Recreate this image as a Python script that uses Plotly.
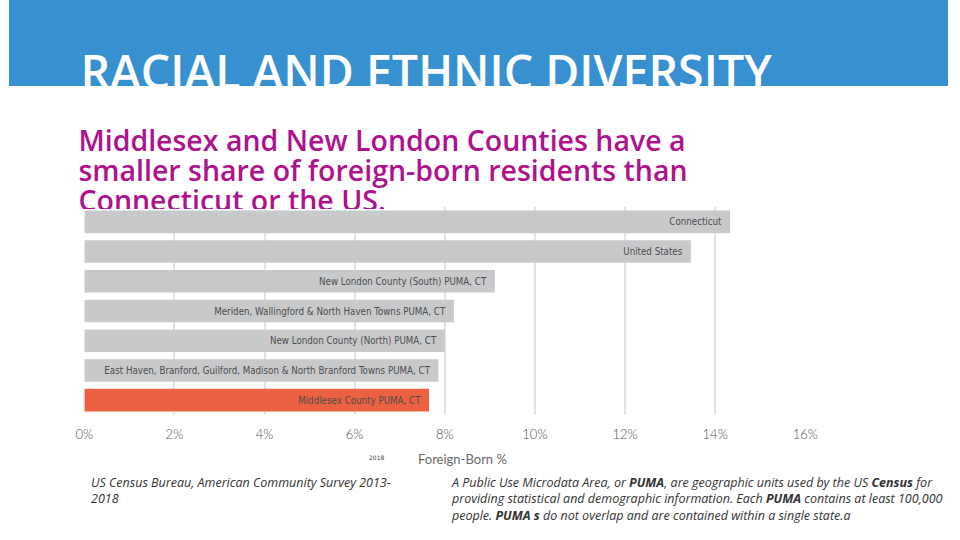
import plotly.graph_objects as go

# chart values (top to bottom)
places = [
    "Connecticut",
    "United States",
    "New London County (South) PUMA, CT",
    "Meriden, Wallingford & North Haven Towns PUMA, CT",
    "New London County (North) PUMA, CT",
    "East Haven, Branford, Guilford, Madison & North Branford Towns PUMA, CT",
    "Middlesex County PUMA, CT",
]
foreign_born = [14.33, 13.46, 9.11, 8.2, 8.0, 7.86, 7.65]
highlight = "Middlesex County PUMA, CT"
tick_vals = [0, 2, 4, 6, 8, 10, 12, 14, 16]
tick_text = ["0%", "2%", "4%", "6%", "8%", "10%", "12%", "14%", "16%"]

title = "RACIAL AND ETHNIC DIVERSITY"
subtitle = ["Middlesex and New London Counties have a",
            "smaller share of foreign-born residents than",
            "Connecticut or the US."]
source_lines = ["US Census Bureau, American Community Survey 2013-", "2018"]
note_lines = [
    "A Public Use Microdata Area, or <b>PUMA</b>, are geographic units used by the US <b>Census</b> for",
    "providing statistical and demographic information. Each <b>PUMA</b> contains at least 100,000",
    "people. <b>PUMA s</b> do not overlap and are contained within a single state.a",
]

W, H = 960, 540
def py(p):  # pixel row -> paper fraction
    return 1 - p / H

bar_colors = ["#EC6142" if p == highlight else "#C8C9CB" for p in places]
bar_text = [p + "\u00a0\u00a0" for p in places]

fig = go.Figure()

fig.add_trace(go.Bar(
    x=foreign_born, y=places, orientation="h",
    marker=dict(color=bar_colors, line=dict(width=0)),
    text=bar_text, textposition="inside", insidetextanchor="end",
    textfont=dict(family="DejaVu Sans Condensed, Roboto", size=9.7, color="#4D4D4D"),
    constraintext="none", hoverinfo="none",
    xaxis="x", yaxis="y",
))

# title, clipped by the bottom of the blue band
fig.add_trace(go.Scatter(
    x=[73], y=[77], mode="text", text=[title], textposition="middle right",
    textfont=dict(family="Open Sans", size=46.5, color="white", weight=600),
    cliponaxis=True, hoverinfo="skip", xaxis="x2", yaxis="y2",
))

# subtitle, clipped by the top of the chart
fig.add_trace(go.Scatter(
    x=[71, 71, 71], y=[144, 174, 204], mode="text", text=subtitle,
    textposition="middle right",
    textfont=dict(family="Open Sans", size=28.5, color="#AE128D", weight=600),
    cliponaxis=True, hoverinfo="skip", xaxis="x3", yaxis="y3",
))

hidden = dict(visible=False, showgrid=False, zeroline=False, fixedrange=True)

foot_font = dict(family="Open Sans", size=12.5, color="#333333")
notes = [
    dict(text="2018", x=376 / W, y=py(457), xref="paper", yref="paper",
         showarrow=False, xanchor="center", yanchor="middle",
         font=dict(family="DejaVu Sans", size=6, color="#444444")),
    dict(text="Foreign-Born %", x=416 / W, y=py(459), xref="paper", yref="paper",
         showarrow=False, xanchor="left", yanchor="middle",
         font=dict(family="Lato", size=13, color="#6A6A6A")),
    dict(text="<i>" + "<br>".join(source_lines) + "</i>", x=82 / W, y=py(472),
         xref="paper", yref="paper", showarrow=False, align="left",
         xanchor="left", yanchor="top", font=foot_font),
    dict(text="<i>" + "<br>".join(note_lines) + "</i>", x=450 / W, y=py(472),
         xref="paper", yref="paper", showarrow=False, align="left",
         xanchor="left", yanchor="top", font=foot_font),
]

fig.update_layout(
    width=W, height=H,
    margin=dict(l=0, r=0, t=0, b=0),
    paper_bgcolor="white", plot_bgcolor="rgba(0,0,0,0)",
    showlegend=False, bargap=0.24, hovermode=False,
    xaxis=dict(domain=[77 / W, 815 / W], range=[0, 16.02],
               tickvals=tick_vals, ticktext=tick_text, ticklabelstandoff=10,
               showgrid=True, gridcolor="#E3E3E3", gridwidth=2,
               zeroline=False, showline=False, ticks="",
               tickfont=dict(family="Lato", size=13, color="#505050", weight=300)),
    yaxis=dict(domain=[py(415), py(207)], autorange="reversed",
               showticklabels=False, showgrid=False, zeroline=False, ticks=""),
    xaxis2=dict(hidden, domain=[0, 1], range=[0, W], anchor="y2"),
    yaxis2=dict(hidden, domain=[py(86), 1], range=[86, 0], anchor="x2"),
    xaxis3=dict(hidden, domain=[0, 1], range=[0, W], anchor="y3"),
    yaxis3=dict(hidden, domain=[py(209), py(110)], range=[209, 110], anchor="x3"),
    shapes=[dict(type="rect", xref="paper", yref="paper", x0=0, x1=1, y0=py(86), y1=1,
                 fillcolor="#3791D1", line=dict(width=0), layer="below")],
    annotations=notes,
)

# no page margin or padding round the 960x540 figure
page_css = ("var s=document.createElement('style');"
            "s.textContent='html,body{margin:0 !important;padding:0 !important;overflow:hidden !important;}"
            ".plotly-graph-div{margin:0 !important;}';"
            "document.head.appendChild(s);")
fig.write_html("out.html", config={"displayModeBar": False}, post_script=page_css)
